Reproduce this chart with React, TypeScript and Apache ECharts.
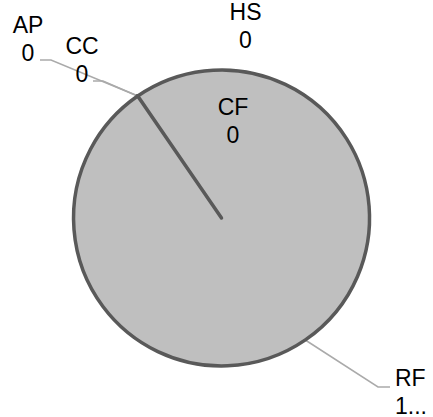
import React, { useEffect, useRef } from "react";
import * as echarts from "echarts";

const categories = ["AP", "CC", "HS", "CF", "RF"];
const values = [0, 0, 0, 0, 100];

// label placement (label box anchor + label line tail), layout only
const labelLayoutSpec = [
  { x: 28, y: 39, align: "center", tail: [[51, 60], [40, 60]] },
  { x: 82, y: 60, align: "center", tail: [[103, 81], [93, 81]] },
  { x: 245.5, y: 26, align: "center", tail: null },
  { x: 233, y: 121, align: "center", tail: null },
  { x: 395, y: 392, align: "left", tail: [[378, 387], [390, 387]] },
];

export default function App() {
  const ref = useRef<HTMLDivElement>(null);
  useEffect(() => {
    if (!ref.current) return;
    const chart = echarts.init(ref.current, null, { renderer: "svg" });
    chart.setOption({
      animation: false,
      series: [
        {
          type: "pie",
          center: [221.5, 218],
          radius: [0, 148],
          startAngle: 124.5,
          minAngle: 0.01,
          data: categories.map((c, i) => ({
            name: c,
            value: values[i],
            labelLine: { show: labelLayoutSpec[i].tail !== null },
            label:
              i === 4
                ? { width: 37, overflow: "truncate" }
                : { width: 120, overflow: "none" },
          })),
          itemStyle: { color: "#bfbfbf", borderColor: "#595959", borderWidth: 3.5 },
          label: {
            formatter: "{b}\n{c}",
            fontFamily: "Liberation Sans, Arial, sans-serif",
            fontSize: 23,
            lineHeight: 28,
            color: "#000",
          },
          labelLine: { lineStyle: { color: "#aaaaaa", width: 1.5 } },
          labelLayout: (params: any) => {
            const s = labelLayoutSpec[params.dataIndex];
            const out: any = {
              x: s.x,
              y: s.y,
              align: s.align,
              verticalAlign: "middle",
            };
            if (s.tail && params.labelLinePoints) {
              out.labelLinePoints = [params.labelLinePoints[0], s.tail[0], s.tail[1]];
            }
            return out;
          },
        },
      ],
    });
    return () => chart.dispose();
  }, []);
  return <div ref={ref} style={{ width: 433, height: 417, position: "absolute", left: 0, top: 0 }} />;
}
